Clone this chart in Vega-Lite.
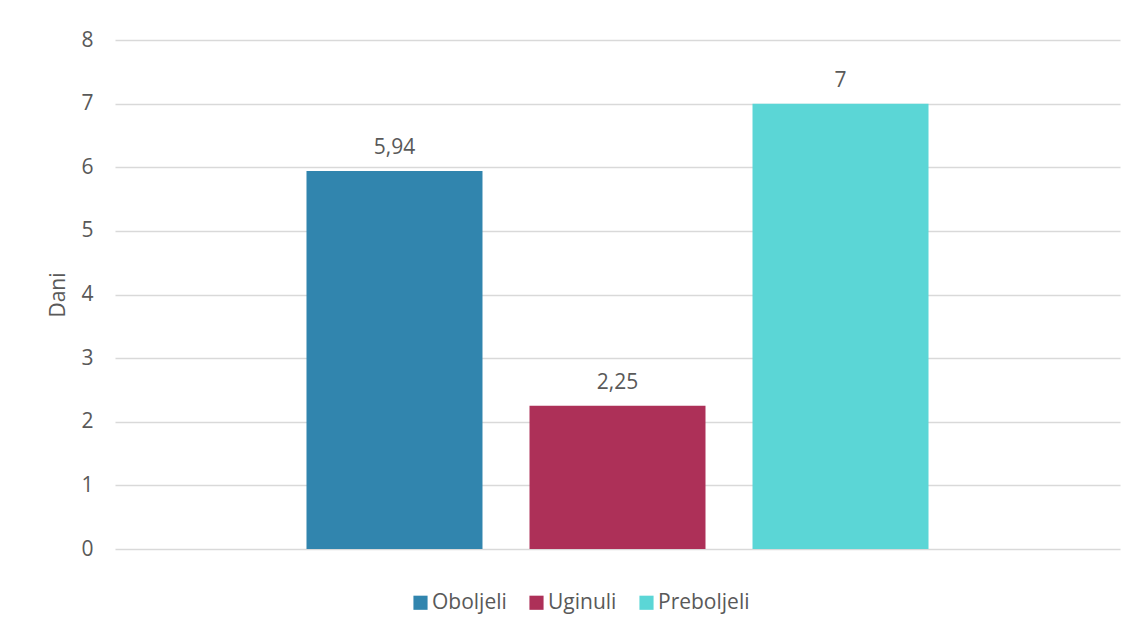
{
  "$schema": "https://vega.github.io/schema/vega-lite/v6.json",
  "autosize": "none",
  "width": 1005,
  "height": 509,
  "padding": {"left": 115, "top": 40, "right": 20, "bottom": 87},
  "background": "#FFFFFF",
  "config": {
    "view": {"stroke": null},
    "font": "Open Sans",
    "axis": {"labelFont": "Open Sans", "titleFont": "Open Sans", "labelColor": "#595959", "titleColor": "#595959"},
    "legend": {"labelFont": "Open Sans", "labelColor": "#595959"}
  },
  "data": {
    "values": [
      {"series": "Oboljeli", "value": 5.94, "label": "5,94"},
      {"series": "Uginuli", "value": 2.25, "label": "2,25"},
      {"series": "Preboljeli", "value": 7, "label": "7"}
    ]
  },
  "encoding": {
    "x": {
      "field": "series",
      "type": "nominal",
      "sort": ["Oboljeli", "Uginuli", "Preboljeli"],
      "scale": {"paddingInner": 0.2108, "paddingOuter": 0.8587},
      "axis": null
    },
    "y": {
      "field": "value",
      "type": "quantitative",
      "scale": {"domain": [0, 8], "nice": false},
      "axis": {
        "title": "Dani",
        "values": [0, 1, 2, 3, 4, 5, 6, 7, 8],
        "format": "d",
        "labelFontSize": 21,
        "titleFontSize": 21,
        "titleFontWeight": "normal",
        "titlePadding": 12,
        "labelPadding": 22,
        "ticks": false,
        "domain": false,
        "grid": true,
        "gridColor": "#D9D9D9",
        "gridWidth": 1.5
      }
    }
  },
  "layer": [
    {
      "mark": {"type": "bar"},
      "encoding": {
        "color": {
          "field": "series",
          "type": "nominal",
          "sort": ["Oboljeli", "Uginuli", "Preboljeli"],
          "scale": {"domain": ["Oboljeli", "Uginuli", "Preboljeli"], "range": ["#3185AE", "#AD3058", "#5BD6D6"]},
          "legend": {
            "title": null,
            "orient": "none",
            "direction": "horizontal",
            "legendX": 295,
            "legendY": 552,
            "symbolType": "square",
            "symbolSize": 200,
            "symbolStrokeWidth": 0,
            "labelFontSize": 21,
            "labelOffset": 1,
            "columnPadding": 19
          }
        }
      }
    },
    {
      "mark": {"type": "text", "baseline": "alphabetic", "dy": -17, "fontSize": 21, "color": "#595959", "font": "Open Sans"},
      "encoding": {"text": {"field": "label", "type": "nominal"}}
    }
  ]
}
